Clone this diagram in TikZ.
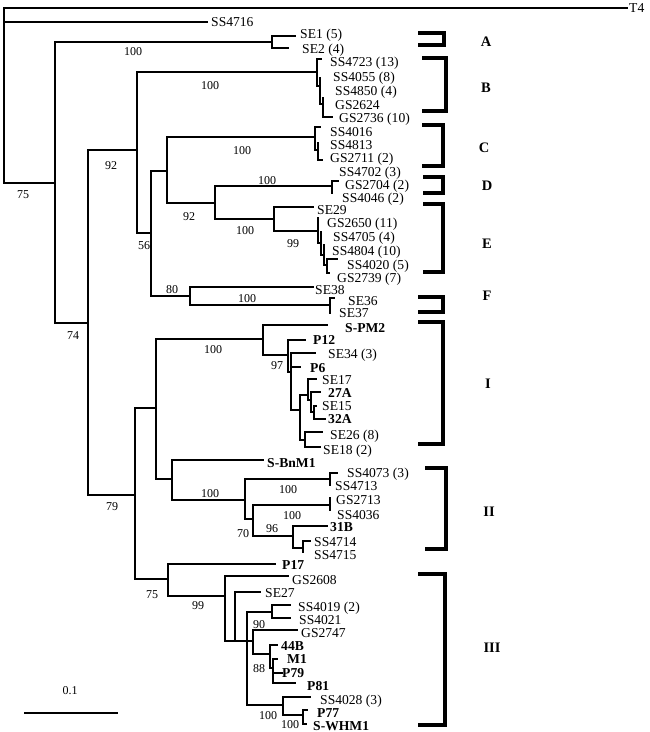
\documentclass[tikz,border=0pt]{standalone}
\usepackage{fontspec}
\setmainfont{Liberation Serif}
\begin{document}
\begin{tikzpicture}[x=1pt,y=-1pt]
\tikzset{
 tree/.style={line width=2.7pt, line cap=rect, line join=miter},
 brk/.style={line width=3.2pt, line join=miter},
 tx/.style={anchor=west, inner sep=0pt, text height=9pt, text depth=0pt, font=\fontsize{13.6}{14}\selectfont},
 txb/.style={tx, font=\fontsize{13.6}{14}\selectfont\bfseries},
 bs/.style={inner sep=0pt, text height=8pt, text depth=0pt, font=\fontsize{12}{12}\selectfont},
 cl/.style={inner sep=0pt, text height=9.5pt, text depth=0pt, font=\fontsize{14.5}{15}\selectfont\bfseries},
}
\fill[white] (0,0) rectangle (650,732);
\useasboundingbox (0,0) rectangle (650,732);

% ---------- coordinates ----------
\coordinate (root) at (4,8);
\coordinate (tT4) at (627,8);
\coordinate (tSS4716) at (207,22);
\coordinate (n75) at (55,183);
\coordinate (nA) at (272,42);
\coordinate (tSE1) at (295,36);
\coordinate (tSE2) at (288,48);
\coordinate (n74) at (88,323);
\coordinate (n92) at (137,150);
\coordinate (nB) at (317,72);
\coordinate (tSS4723) at (321,59);
\coordinate (nB2) at (320,86);
\coordinate (tSS4055) at (320,78);
\coordinate (nB3) at (323,104);
\coordinate (tGS2624) at (323,98);
\coordinate (tGS2736) at (332,117);
\coordinate (n56) at (151,233);
\coordinate (n92b) at (167,171);
\coordinate (nC) at (315,137);
\coordinate (tSS4016) at (320,127);
\coordinate (nC2) at (318,150);
\coordinate (tSS4813) at (318,143);
\coordinate (tGS2711) at (322,160);
\coordinate (n92c) at (215,203);
\coordinate (nD) at (332,186);
\coordinate (tSS4702) at (338,181);
\coordinate (tSS4046) at (332,193);
\coordinate (nE) at (274,219);
\coordinate (tSE29) at (313,207);
\coordinate (n99) at (318,231);
\coordinate (tGS2650) at (318,218);
\coordinate (nE2) at (321,243);
\coordinate (tSS4705) at (321,232);
\coordinate (nE3) at (324,255);
\coordinate (tSS4804) at (324,245);
\coordinate (nE4) at (327,265);
\coordinate (tSS4020) at (337,259);
\coordinate (tGS2739) at (329,273);
\coordinate (n80) at (190,296);
\coordinate (tSE38) at (313,287);
\coordinate (nF) at (330,305);
\coordinate (tSE36) at (334,298);
\coordinate (tSE37) at (330,313);
\coordinate (n79) at (135,495);
\coordinate (n79a) at (156,408);
\coordinate (nI) at (263,339);
\coordinate (tSPM2) at (327,325);
\coordinate (n97) at (288,355);
\coordinate (tP12) at (305,340);
\coordinate (nI2) at (291,372);
\coordinate (tSE34) at (315,353);
\coordinate (tP6) at (300,367);
\coordinate (nW) at (300,410);
\coordinate (nI3) at (308,395);
\coordinate (tSE17) at (316,379);
\coordinate (nI4) at (311,400);
\coordinate (t27A) at (320,392);
\coordinate (nI5) at (314,412);
\coordinate (tSE15) at (316,406);
\coordinate (t32A) at (325,419);
\coordinate (nI6) at (305,440);
\coordinate (tSE26) at (322,432);
\coordinate (tSE18) at (320,447);
\coordinate (nII0) at (172,479);
\coordinate (tSBnM1) at (263,460);
\coordinate (nII) at (245,500);
\coordinate (nII1) at (330,479);
\coordinate (tSS4073) at (337,473);
\coordinate (tSS4713) at (330,485);
\coordinate (nII2) at (253,519);
\coordinate (nII3) at (330,505);
\coordinate (tGS2713) at (330,498);
\coordinate (tSS4036) at (330,510);
\coordinate (nII4) at (293,536);
\coordinate (t31B) at (327,526);
\coordinate (nII5) at (303,548);
\coordinate (tSS4714) at (310,541);
\coordinate (tSS4715) at (303,552);
\coordinate (n75b) at (168,579);
\coordinate (tP17) at (275,564);
\coordinate (n99b) at (225,596);
\coordinate (tGS2608) at (288,576);
\coordinate (nX) at (235,641);
\coordinate (tSE27) at (260,592);
\coordinate (nY) at (247,641);
\coordinate (n90) at (272,612);
\coordinate (tSS4019) at (290,605);
\coordinate (tSS4021) at (290,618);
\coordinate (nZ) at (253,641);
\coordinate (tGS2747) at (297,630);
\coordinate (n88) at (270,654);
\coordinate (t44B) at (277,645);
\coordinate (nM) at (273,668);
\coordinate (tM1) at (277,659);
\coordinate (tP79) at (282,673);
\coordinate (tP81) at (295,683);
\coordinate (n100c) at (283,705);
\coordinate (tSS4028) at (310,697);
\coordinate (nWH) at (303,715);
\coordinate (tP77) at (307,710);
\coordinate (tSWHM1) at (306,724);

% ---------- branches ----------
\foreach \p/\c in {root/tT4, root/tSS4716, root/n75,
  n75/nA, nA/tSE1, nA/tSE2, n75/n74,
  n74/n92, n92/nB, nB/tSS4723, nB/nB2, nB2/tSS4055, nB2/nB3, nB3/tGS2624, nB3/tGS2736,
  n92/n56, n56/n92b, n92b/nC, nC/tSS4016, nC/nC2, nC2/tSS4813, nC2/tGS2711,
  n92b/n92c, n92c/nD, nD/tSS4702, nD/tSS4046,
  n92c/nE, nE/tSE29, nE/n99, n99/tGS2650, n99/nE2, nE2/tSS4705, nE2/nE3, nE3/tSS4804, nE3/nE4, nE4/tSS4020, nE4/tGS2739,
  n56/n80, n80/tSE38, n80/nF, nF/tSE36, nF/tSE37,
  n74/n79, n79/n79a, n79a/nI, nI/tSPM2, nI/n97, n97/tP12, n97/nI2, nI2/tSE34, nI2/tP6, nI2/nW,
  nW/nI3, nI3/tSE17, nI3/nI4, nI4/t27A, nI4/nI5, nI5/tSE15, nI5/t32A,
  nW/nI6, nI6/tSE26, nI6/tSE18,
  n79a/nII0, nII0/tSBnM1, nII0/nII, nII/nII1, nII1/tSS4073, nII1/tSS4713,
  nII/nII2, nII2/nII3, nII3/tGS2713, nII3/tSS4036, nII2/nII4, nII4/t31B, nII4/nII5, nII5/tSS4714, nII5/tSS4715,
  n79/n75b, n75b/tP17, n75b/n99b, n99b/tGS2608, n99b/nX, nX/tSE27, nX/nY,
  nY/n90, n90/tSS4019, n90/tSS4021, nY/nZ, nZ/tGS2747, nZ/n88, n88/t44B, n88/nM, nM/tM1, nM/tP79, nM/tP81,
  nY/n100c, n100c/tSS4028, n100c/nWH, nWH/tP77, nWH/tSWHM1}
  \draw[tree] (\p) |- (\c);

% ---------- taxon labels ----------
\node[tx] (lT4) at (629,8) {T4};
\node[tx] (lSS4716) at (211,22) {SS4716};
\node[tx] (lSE1) at (300,34) {SE1 (5)};
\node[tx] (lSE2) at (302,49) {SE2 (4)};
\node[tx] (lSS4723) at (330,62) {SS4723 (13)};
\node[tx] (lSS4055) at (333,77) {SS4055 (8)};
\node[tx] (lSS4850) at (335,91) {SS4850 (4)};
\node[tx] (lGS2624) at (335,105) {GS2624};
\node[tx] (lGS2736) at (339,118) {GS2736 (10)};
\node[tx] (lSS4016) at (330,132) {SS4016};
\node[tx] (lSS4813) at (330,145) {SS4813};
\node[tx] (lGS2711) at (330,158) {GS2711 (2)};
\node[tx] (lSS4702) at (339,172) {SS4702 (3)};
\node[tx] (lGS2704) at (345,185) {GS2704 (2)};
\node[tx] (lSS4046) at (342,198) {SS4046 (2)};
\node[tx] (lSE29) at (317,210) {SE29};
\node[tx] (lGS2650) at (327,223) {GS2650 (11)};
\node[tx] (lSS4705) at (333,237) {SS4705 (4)};
\node[tx] (lSS4804) at (332,251) {SS4804 (10)};
\node[tx] (lSS4020) at (347,265) {SS4020 (5)};
\node[tx] (lGS2739) at (337,278) {GS2739 (7)};
\node[tx] (lSE38) at (315,290) {SE38};
\node[tx] (lSE36) at (348,301) {SE36};
\node[tx] (lSE37) at (339,313) {SE37};
\node[txb] (lSPM2) at (345,328) {S-PM2};
\node[txb] (lP12) at (313,340) {P12};
\node[tx] (lSE34) at (328,354) {SE34 (3)};
\node[txb] (lP6) at (310,368) {P6};
\node[tx] (lSE17) at (322,380) {SE17};
\node[txb] (l27A) at (328,393) {27A};
\node[tx] (lSE15) at (322,406) {SE15};
\node[txb] (l32A) at (328,419) {32A};
\node[tx] (lSE26) at (330,435) {SE26 (8)};
\node[tx] (lSE18) at (323,450) {SE18 (2)};
\node[txb] (lSBnM1) at (267,463) {S-BnM1};
\node[tx] (lSS4073) at (347,473) {SS4073 (3)};
\node[tx] (lSS4713) at (335,486) {SS4713};
\node[tx] (lGS2713) at (336,500) {GS2713};
\node[tx] (lSS4036) at (337,515) {SS4036};
\node[txb] (l31B) at (330,527) {31B};
\node[tx] (lSS4714) at (314,542) {SS4714};
\node[tx] (lSS4715) at (314,555) {SS4715};
\node[txb] (lP17) at (282,565) {P17};
\node[tx] (lGS2608) at (292,580) {GS2608};
\node[tx] (lSE27) at (265,593) {SE27};
\node[tx] (lSS4019) at (298,607) {SS4019 (2)};
\node[tx] (lSS4021) at (299,620) {SS4021};
\node[tx] (lGS2747) at (301,633) {GS2747};
\node[txb] (l44B) at (281,646) {44B};
\node[txb] (lM1) at (287,659) {M1};
\node[txb] (lP79) at (282,673) {P79};
\node[txb] (lP81) at (307,686) {P81};
\node[tx] (lSS4028) at (320,700) {SS4028 (3)};
\node[txb] (lP77) at (317,713) {P77};
\node[txb] (lSWHM1) at (313,726) {S-WHM1};

% ---------- bootstrap values ----------
\node[bs] (b1) at (23,194) {75};
\node[bs] (b2) at (133,51) {100};
\node[bs] (b3) at (73,335) {74};
\node[bs] (b4) at (111,165) {92};
\node[bs] (b5) at (210,85) {100};
\node[bs] (b6) at (144,245) {56};
\node[bs] (b7) at (242,150) {100};
\node[bs] (b8) at (189,216) {92};
\node[bs] (b9) at (267,180) {100};
\node[bs] (b10) at (245,230) {100};
\node[bs] (b11) at (293,243) {99};
\node[bs] (b12) at (172,289) {80};
\node[bs] (b13) at (247,298) {100};
\node[bs] (b14) at (112,506) {79};
\node[bs] (b15) at (213,349) {100};
\node[bs] (b16) at (277,365) {97};
\node[bs] (b17) at (210,493) {100};
\node[bs] (b18) at (288,489) {100};
\node[bs] (b19) at (292,515) {100};
\node[bs] (b20) at (272,528) {96};
\node[bs] (b21) at (243,533) {70};
\node[bs] (b22) at (152,594) {75};
\node[bs] (b23) at (198,605) {99};
\node[bs] (b24) at (259,624) {90};
\node[bs] (b25) at (259,668) {88};
\node[bs] (b26) at (268,715) {100};
\node[bs] (b27) at (290,724) {100};

% ---------- clade brackets ----------
\draw[brk] (418,33) -| (444,45) -- (418,45);
\draw[brk] (422,58) -| (446,111) -- (422,111);
\draw[brk] (422,125) -| (443,166) -- (422,166);
\draw[brk] (423,177) -| (443,193) -- (423,193);
\draw[brk] (423,204) -| (443,272) -- (423,272);
\draw[brk] (418,297) -| (443,312) -- (418,312);
\draw[brk] (418,322) -| (443,444) -- (418,444);
\draw[brk] (425,468) -| (446,549) -- (425,549);
\draw[brk] (418,574) -| (445,725) -- (418,725);

\node[cl] (cA) at (486,42) {A};
\node[cl] (cB) at (486,88) {B};
\node[cl] (cC) at (484,148) {C};
\node[cl] (cD) at (487,186) {D};
\node[cl] (cE) at (487,244) {E};
\node[cl] (cF) at (487,296) {F};
\node[cl] (cI) at (488,384) {I};
\node[cl] (cII) at (489,512) {II};
\node[cl] (cIII) at (492,648) {III};

% ---------- scale bar ----------
\coordinate (sb1) at (24,713);
\coordinate (sb2) at (118,713);
\draw[tree, line cap=butt] (sb1) -- (sb2);
\node[bs] (sbl) at (70,690) {0.1};
\end{tikzpicture}
\end{document}
